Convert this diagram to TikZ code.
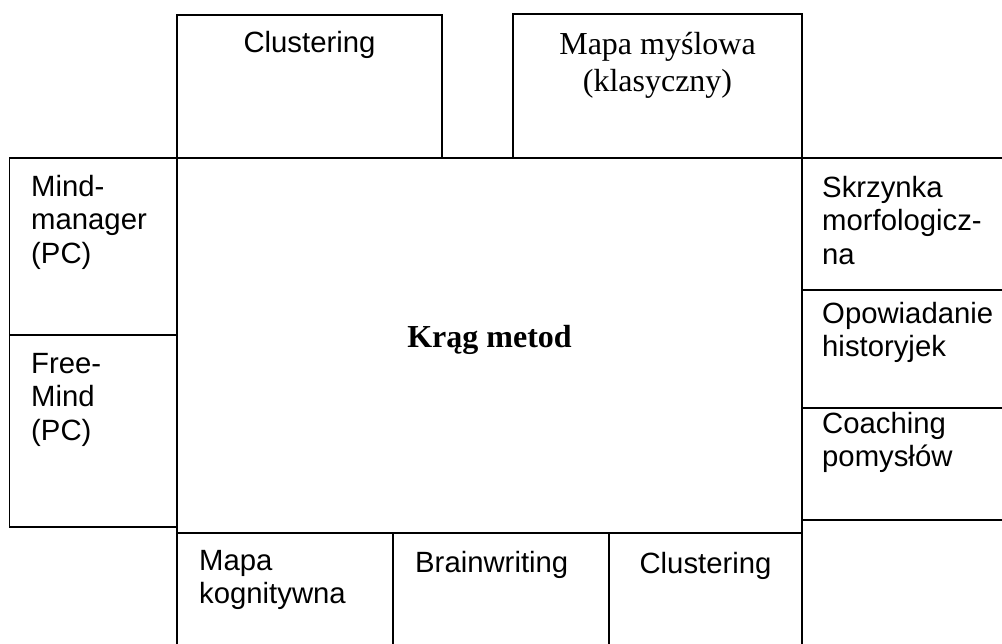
\documentclass[tikz,border=0pt]{standalone}
\usepackage{fontspec}
\setmainfont{Liberation Serif}
\setsansfont{Liberation Sans}
\begin{document}
\begin{tikzpicture}[x=1pt,y=-1pt,
  box/.style={draw=black,line width=1.6pt,rectangle,inner sep=0pt,outer sep=0pt,anchor=north west},
  sans/.style={font=\sffamily\fontsize{29.3}{33.5}\selectfont,inner sep=0pt,align=left},
  serif/.style={font=\rmfamily\fontsize{32}{36.8}\selectfont,inner sep=0pt,align=center}]
\useasboundingbox (0,0) rectangle (1002,644);
\clip (0,0) rectangle (1002,644);
% boxes
\node[box,minimum width=265pt,minimum height=143pt] (clu1) at (177,15) {};
\node[box,minimum width=289pt,minimum height=144pt] (mapa) at (513,14) {};
\node[box,minimum width=625pt,minimum height=375pt] (centre) at (177,158) {};
\node[box,minimum width=167.5pt,minimum height=177pt] (mm) at (9.5,158) {};
\node[box,minimum width=167.5pt,minimum height=192pt] (fm) at (9.5,335) {};
\node[box,minimum width=210pt,minimum height=132pt] (sk) at (802,158) {};
\node[box,minimum width=210pt,minimum height=118pt] (op) at (802,290) {};
\node[box,minimum width=210pt,minimum height=112pt] (co) at (802,408) {};
\node[box,minimum width=216pt,minimum height=127pt] (mk) at (177,533) {};
\node[box,minimum width=216pt,minimum height=127pt] (bw) at (393,533) {};
\node[box,minimum width=193pt,minimum height=127pt] (clu2) at (609,533) {};
% texts
\node[sans,anchor=base] (tclu1) at (309.5,53) {Clustering};
\node[serif,anchor=north] (tmapa) at (657.5,32) {Mapa myślowa\\(klasyczny)};
\node[font=\rmfamily\bfseries\fontsize{32}{36.8}\selectfont,inner sep=0pt,anchor=base] (tcentre) at (489.5,348) {Krąg metod};
\node[sans,anchor=north west] (tmm) at (31,175) {Mind-\\manager\\(PC)};
\node[sans,anchor=north west] (tfm) at (31,353) {Free-\\Mind\\(PC)};
\node[sans,anchor=north west] (tsk) at (822,176) {Skrzynka\\morfologicz-\\na};
\node[sans,anchor=north west] (top) at (822,302) {Opowiadanie\\historyjek};
\node[sans,anchor=north west] (tco) at (822,412) {Coaching\\pomysłów};
\node[sans,anchor=north west] (tmk) at (199,550) {Mapa\\kognitywna};
\node[sans,anchor=base west] (tbw) at (415,572.5) {Brainwriting};
\node[sans,anchor=base] (tclu2) at (705.5,573) {Clustering};
\end{tikzpicture}
\end{document}
